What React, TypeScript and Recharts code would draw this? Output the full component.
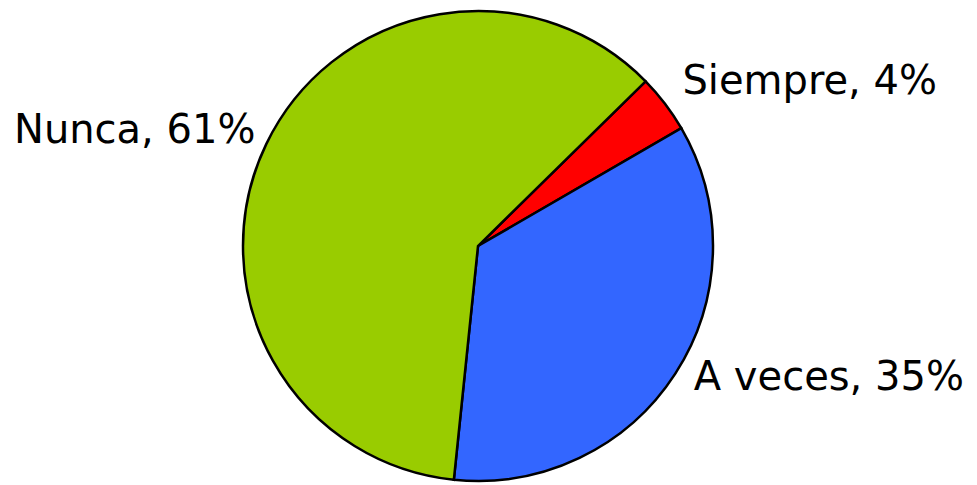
import { Cell, Pie, PieChart } from "recharts";

const categories = ["Siempre", "A veces", "Nunca"];
const percents = [4, 35, 61];
const colors = ["#FF0000", "#3366FF", "#99CC00"];

const data = categories.map((name, i) => ({ name, value: percents[i] }));

const RAD = Math.PI / 180;

function renderLabel(props: any) {
  const { cx, cy, midAngle, outerRadius, name, value } = props;
  const cos = Math.cos(-midAngle * RAD);
  // labels on the right sit a bit further out than the left one
  const r = outerRadius + (cos >= 0 ? 22 : 12);
  const x = cx + r * cos;
  const y = cy + r * Math.sin(-midAngle * RAD);
  return (
    <text
      x={x}
      y={y}
      dy={4}
      textAnchor={cos >= 0 ? "start" : "end"}
      fill="#000"
      fontSize={40}
      fontFamily="DejaVu Sans, Verdana, sans-serif"
    >
      {`${name}, ${value}%`}
    </text>
  );
}

export default function App() {
  return (
    <div style={{ width: 977, height: 485, background: "#fff" }}>
      <style>{`body{margin:0}`}</style>
      <PieChart width={977} height={485} margin={{ top: 0, right: 0, bottom: 0, left: 0 }}>
        <Pie
          data={data}
          dataKey="value"
          nameKey="name"
          cx={478}
          cy={246}
          outerRadius={235}
          startAngle={44.5}
          endAngle={44.5 - 360}
          stroke="#000"
          strokeWidth={2.5}
          label={renderLabel}
          labelLine={false}
          isAnimationActive={false}
        >
          {data.map((d, i) => (
            <Cell key={d.name} fill={colors[i]} />
          ))}
        </Pie>
      </PieChart>
    </div>
  );
}
